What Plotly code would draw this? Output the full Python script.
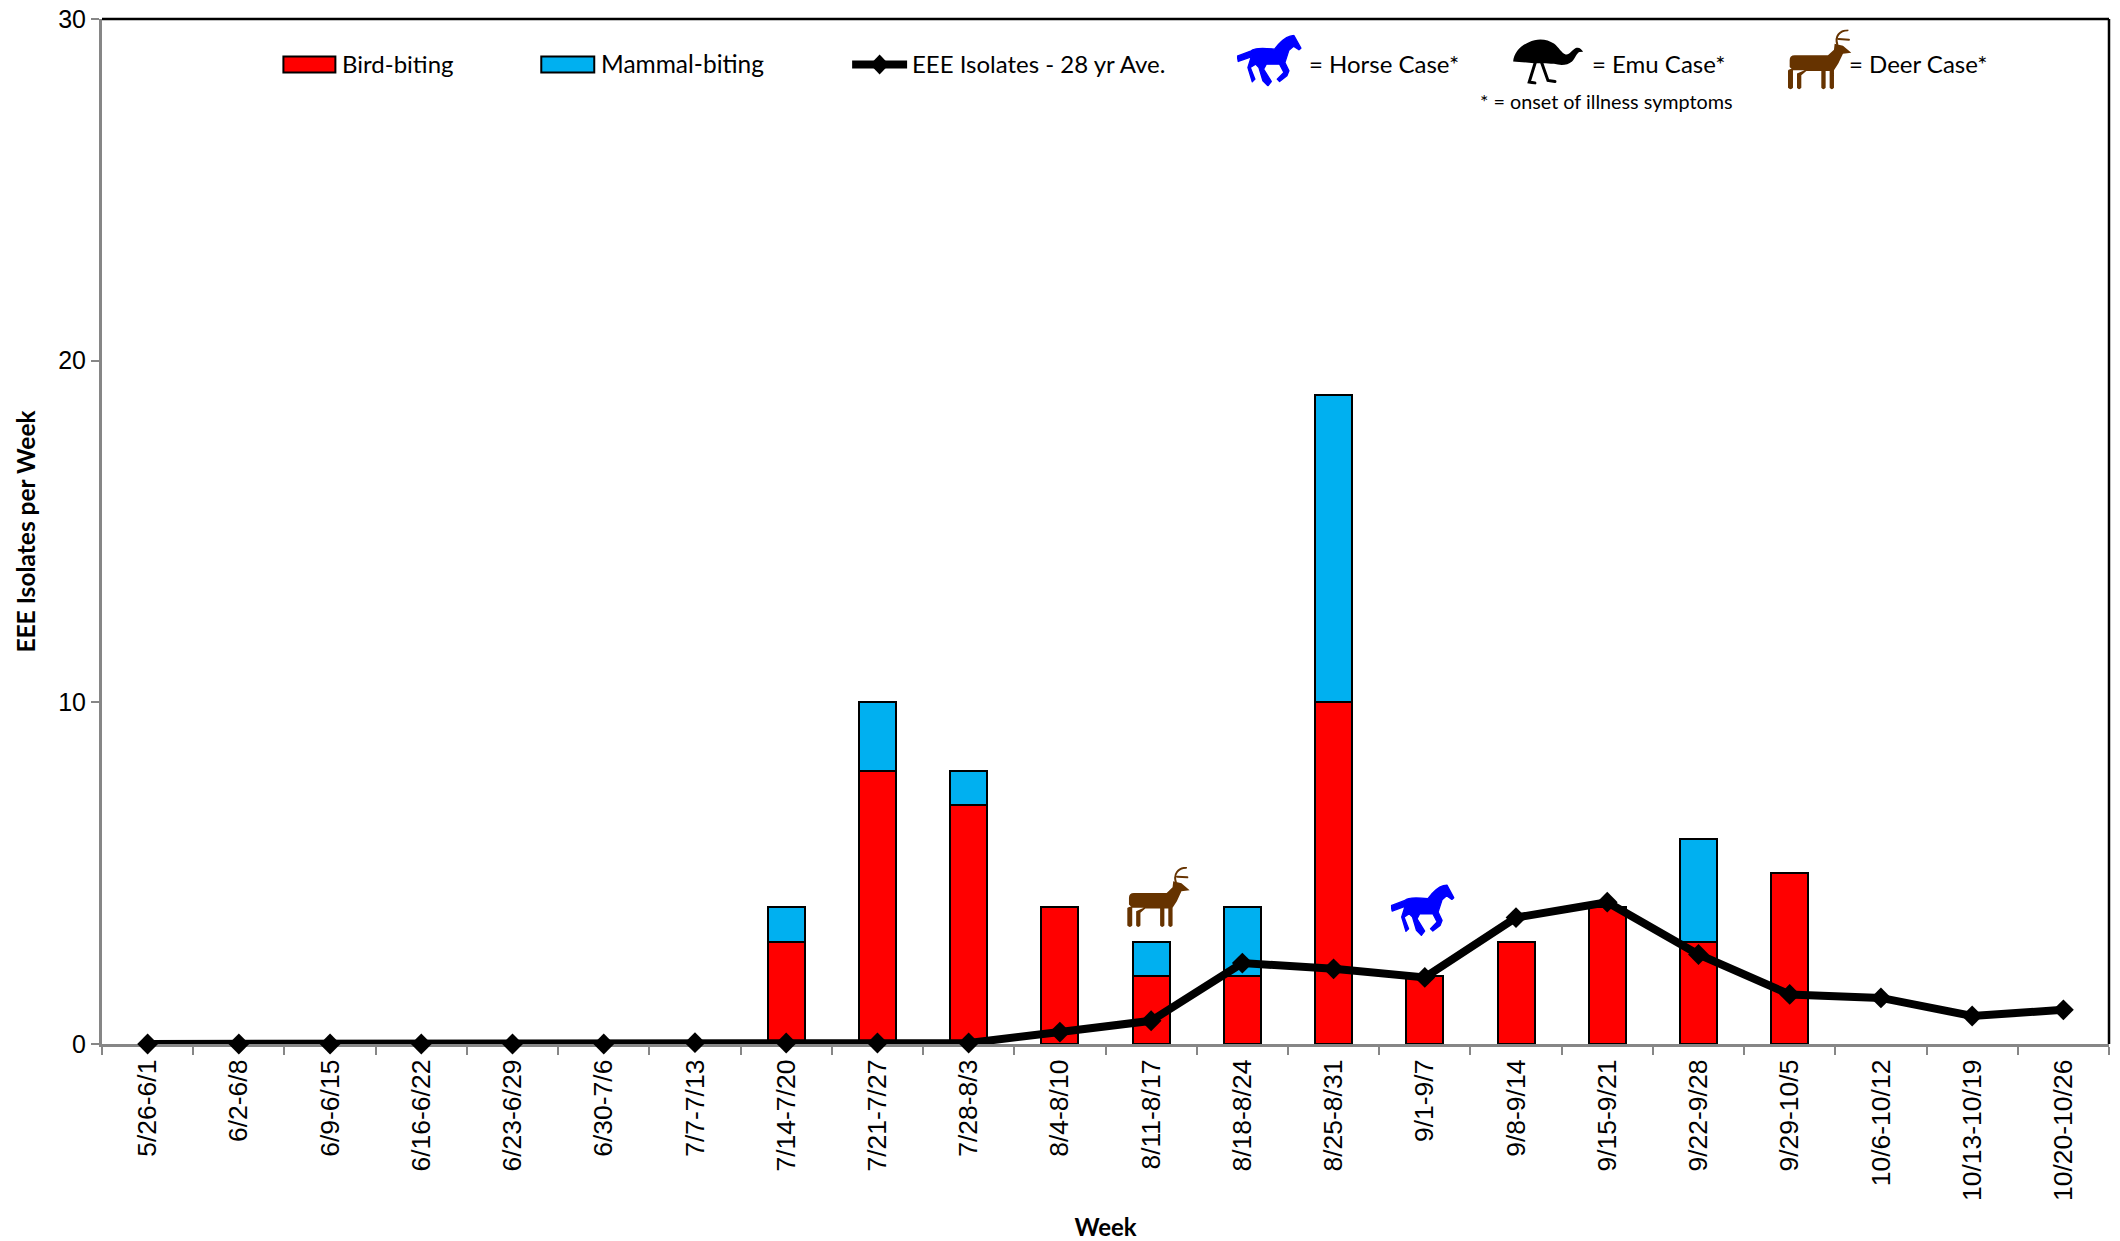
import base64
import plotly.graph_objects as go

weeks = ["5/26-6/1","6/2-6/8","6/9-6/15","6/16-6/22","6/23-6/29","6/30-7/6","7/7-7/13","7/14-7/20",
         "7/21-7/27","7/28-8/3","8/4-8/10","8/11-8/17","8/18-8/24","8/25-8/31","9/1-9/7","9/8-9/14",
         "9/15-9/21","9/22-9/28","9/29-10/5","10/6-10/12","10/13-10/19","10/20-10/26"]
bird_biting = [None,None,None,None,None,None,None,3,8,7,4,2,2,10,2,3,4,3,5,None,None,None]
mammal_biting = [None,None,None,None,None,None,None,1,2,1,None,1,2,9,None,None,None,3,None,None,None,None]
isolates_avg = [0,0,0,0,0,0,0.04,0.03,0.03,0.03,0.35,0.68,2.37,2.2,1.95,3.7,4.15,2.62,1.45,1.35,0.82,1.0]

W, H = 2120, 1241
L, R, T, B = 101.5, 2109.5, 18.5, 1044
FONT_A = "Liberation Sans"
FONT_C = "Lato"


def px(x):
    return (x - L) / (R - L)


def py(y):
    return (B - y) / (B - T)


def svg_uri(w, h, body):
    svg = f'<svg xmlns="http://www.w3.org/2000/svg" width="{w}" height="{h}" viewBox="0 0 {w} {h}">{body}</svg>'
    return "data:image/svg+xml;base64," + base64.b64encode(svg.encode()).decode()


HORSE = svg_uri(195, 156, '<g transform="translate(-112,-41)"><path fill="#0000FF" stroke="#0000FF" stroke-width="4" stroke-linejoin="round" d="M113 106 L155 90 C165 80 200 82 225 85 C235 72 250 52 272 46 L283 44 L304 82 L298 87 L282 76 L268 88 L256 125 L268 150 L262 165 L240 182 L233 175 L253 155 L240 130 L200 130 L192 145 L215 182 L205 195 L190 180 L178 140 L168 130 L152 140 L166 175 L158 183 L145 140 L155 108 L116 122 Z"/></g>')
EMU = svg_uri(212, 136, '<g transform="translate(-37,-57)"><path fill="#000" d="M38 125 C40 100 60 78 85 68 C110 55 140 58 160 72 C175 84 182 100 195 104 C207 106 212 92 225 85 C236 82 242 88 247 96 L236 97 C228 100 224 115 214 125 C200 137 180 137 160 132 C135 130 120 130 100 130 C80 128 55 126 38 125 Z"/><path fill="none" stroke="#000" stroke-width="9" stroke-linecap="round" d="M106 122 L86 186 L103 189 M122 125 L142 181 L163 184"/></g>')
DEER = svg_uri(192, 184, '<g transform="translate(-24,-27)"><path fill="#663300" d="M30 120 Q30 105 45 105 L145 105 L163 88 L165 70 L190 76 L215 97 L190 100 L176 130 L163 150 L163 203 Q157 212 150 203 L150 152 L138 152 L138 203 Q131 212 125 203 L125 152 L80 152 L65 165 L65 203 Q58 212 52 203 L52 160 L75 150 L40 150 L30 140 Z"/><path fill="#663300" d="M25 152 Q25 147 40 145 L40 203 Q33 212 25 203 Z"/><path fill="none" stroke="#663300" stroke-width="6" stroke-linecap="round" d="M173 72 C165 48 180 30 204 29 M177 56 L208 58"/></g>')

fig = go.Figure()
fig.add_bar(x=weeks, y=bird_biting, name="Bird-biting", width=0.405, cliponaxis=False,
            marker=dict(color="#FF0000", line=dict(color="#000000", width=2)))
fig.add_bar(x=weeks, y=mammal_biting, name="Mammal-biting", width=0.405, cliponaxis=False,
            marker=dict(color="#00B0F0", line=dict(color="#000000", width=2)))
fig.add_scatter(x=weeks, y=isolates_avg, name="EEE Isolates - 28 yr Ave.", mode="lines+markers", cliponaxis=False,
                line=dict(color="#000000", width=8), marker=dict(color="#000000", symbol="diamond", size=16))

shapes = [
    dict(type="line", xref="paper", yref="paper", x0=0, x1=1, y0=1, y1=1, line=dict(color="#000000", width=2.5)),
    dict(type="line", xref="paper", yref="paper", x0=1, x1=1, y0=0, y1=1, line=dict(color="#000000", width=2.5)),
]
for x0, x1, col in [(283, 335, "#FF0000"), (541, 594, "#00B0F0")]:
    shapes.append(dict(type="rect", xref="paper", yref="paper", x0=px(x0), x1=px(x1), y0=py(72), y1=py(56),
                       fillcolor=col, line=dict(color="#000000", width=2)))
shapes.append(dict(type="line", xref="paper", yref="paper", x0=px(852), x1=px(907), y0=py(64), y1=py(64),
                   line=dict(color="#000000", width=8)))
shapes.append(dict(type="path", xref="paper", yref="paper", fillcolor="#000000", line=dict(color="#000000", width=0),
                   path=f"M {px(870)} {py(64)} L {px(879.5)} {py(54)} L {px(889)} {py(64)} L {px(879.5)} {py(74)} Z"))

annotations = []
for x, y, text, size in [(341, 63.5, "Bird-biting", 24), (600, 63.5, "Mammal-biting", 24.5),
                         (911, 63.5, "EEE Isolates - 28 yr Ave.", 24), (1308, 63.5, "= Horse Case*", 24),
                         (1591, 63.5, "= Emu Case*", 24), (1848, 63.5, "= Deer Case*", 24),
                         (1479, 100.5, "* = onset of illness symptoms", 19.8)]:
    annotations.append(dict(xref="paper", yref="paper", x=px(x), y=py(y), text=text, showarrow=False,
                            xanchor="left", yanchor="middle", borderpad=0,
                            font=dict(family=FONT_C, size=size, color="#000000")))

images = []
for src, x0, x1, y0, y1 in [(HORSE, 1237, 1302, 34, 86), (EMU, 1513, 1584, 38, 84), (DEER, 1788, 1852, 29, 90),
                            (DEER, 1127, 1190, 867, 928), (HORSE, 1391, 1455, 884, 936)]:
    images.append(dict(source=src, xref="paper", yref="paper", x=px(x0), y=py(y0), sizex=(x1 - x0) / (R - L),
                       sizey=(y1 - y0) / (B - T), xanchor="left", yanchor="top", sizing="stretch", layer="above"))

fig.update_layout(
    width=W, height=H, barmode="stack", showlegend=False, plot_bgcolor="#FFFFFF", paper_bgcolor="#FFFFFF",
    margin=dict(l=L, r=W - R, t=T, b=H - B, pad=0), shapes=shapes, annotations=annotations, images=images,
    xaxis=dict(type="category", categoryorder="array", categoryarray=weeks, range=[-0.5, 21.5], automargin=False,
               tickson="boundaries", ticks="outside", ticklen=8, tickwidth=2, tickcolor="#868686",
               showline=True, linecolor="#868686", linewidth=3, showgrid=False, zeroline=False, tickangle=-90,
               ticklabelstandoff=2, layer="below traces", tickfont=dict(family=FONT_A, size=26.5, color="#000000"),
               title=dict(text="<b>Week</b>", font=dict(family=FONT_C, size=24, color="#000000"), standoff=24)),
    yaxis=dict(range=[0, 30], tickvals=[0, 10, 20, 30], automargin=False, ticks="outside", ticklen=8, tickwidth=2,
               tickcolor="#868686", showline=True, linecolor="#868686", linewidth=3, showgrid=False, zeroline=False,
               layer="below traces", tickfont=dict(family=FONT_A, size=25, color="#000000"),
               title=dict(text="<b>EEE Isolates per Week</b>", font=dict(family=FONT_C, size=24.5, color="#000000"), standoff=16)),
)

fig.write_html("out.html", config=dict(displayModeBar=False), post_script="document.body.style.margin='0';")
